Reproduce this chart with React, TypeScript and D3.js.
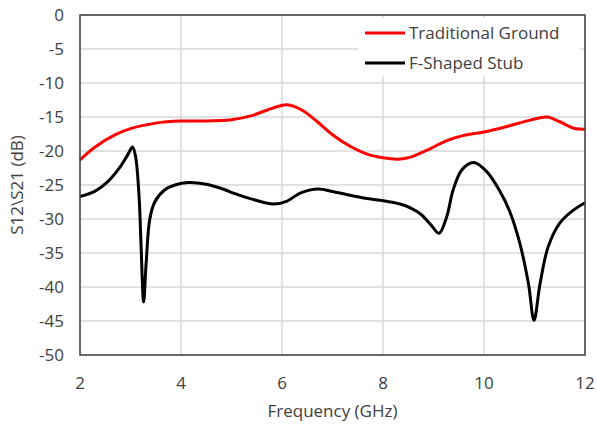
import React, { useRef, useEffect } from "react";
import * as d3 from "d3";

// Traditional Ground (red)
const tradFreq = [2.0, 2.3, 2.7, 3.0, 3.5, 4.0, 4.4, 5.0, 5.4, 5.7, 6.1, 6.4, 6.7, 7.0, 7.35, 7.7, 8.0, 8.3, 8.55, 8.95, 9.25, 9.6, 10.0, 10.45, 10.9, 11.25, 11.5, 11.8, 12.0];
const tradDb = [-21.3, -19.4, -17.6, -16.7, -15.9, -15.6, -15.6, -15.4, -14.8, -14.0, -13.2, -14.0, -15.7, -17.6, -19.3, -20.5, -21.0, -21.2, -20.9, -19.6, -18.5, -17.7, -17.2, -16.4, -15.5, -15.0, -15.7, -16.7, -16.8];

// F-Shaped Stub (black)
const stubFreq = [2.0, 2.3, 2.55, 2.8, 2.95, 3.04, 3.1, 3.17, 3.21, 3.26, 3.31, 3.38, 3.48, 3.68, 3.88, 4.14, 4.5, 4.87, 5.04, 5.37, 5.83, 6.09, 6.36, 6.72, 7.02, 7.68, 8.0, 8.34, 8.55, 8.75, 8.93, 9.11, 9.26, 9.39, 9.56, 9.79, 10.05, 10.32, 10.51, 10.71, 10.88, 10.99, 11.11, 11.27, 11.5, 11.77, 12.0];
const stubDb = [-26.7, -25.9, -24.5, -22.3, -20.5, -19.4, -20.8, -26.7, -34.1, -42.2, -36.5, -30.1, -27.5, -25.7, -25.0, -24.65, -24.9, -25.7, -26.2, -27.0, -27.8, -27.4, -26.2, -25.6, -26.0, -27.0, -27.3, -27.8, -28.4, -29.3, -30.7, -32.1, -29.7, -25.7, -22.8, -21.7, -23.0, -26.0, -28.9, -33.6, -39.5, -44.9, -39.5, -34.1, -30.6, -28.7, -27.6];

const xTicks = [2, 4, 6, 8, 10, 12];
const yTicks = [0, -5, -10, -15, -20, -25, -30, -35, -40, -45, -50];

const seriesNames = ["Traditional Ground", "F-Shaped Stub"];
const seriesColors = ["#ff0000", "#000000"];

export default function App() {
    const svgRef = useRef(null);

    useEffect(() => {
        const width = 597;
        const height = 426;
        const margin = { top: 15, right: 12, bottom: 71, left: 80 };
        const font = "'Open Sans', sans-serif";
        const fontSize = 17;
        const textColor = "#404040";

        const x = d3.scaleLinear().domain([2, 12]).range([margin.left, width - margin.right]);
        const y = d3.scaleLinear().domain([-50, 0]).range([height - margin.bottom, margin.top]);

        const svg = d3.select(svgRef.current).attr("width", width).attr("height", height);
        svg.selectAll("*").remove();

        svg.append("rect").attr("width", width).attr("height", height).attr("fill", "#fff");

        // gridlines
        svg.append("g")
            .selectAll("line")
            .data(yTicks)
            .join("line")
            .attr("x1", x(2)).attr("x2", x(12))
            .attr("y1", (d) => y(d)).attr("y2", (d) => y(d))
            .attr("stroke", "#d9d9d9").attr("stroke-width", 1.5);

        svg.append("g")
            .selectAll("line")
            .data(xTicks)
            .join("line")
            .attr("x1", (d) => x(d)).attr("x2", (d) => x(d))
            .attr("y1", y(0)).attr("y2", y(-50))
            .attr("stroke", "#d9d9d9").attr("stroke-width", 1.5);

        // legend background hides the grid
        svg.append("rect")
            .attr("x", 358).attr("y", 18).attr("width", 222).attr("height", 58)
            .attr("fill", "#fff");

        const line = d3.line<[number, number]>()
            .x((d) => x(d[0]))
            .y((d) => y(d[1]))
            .curve(d3.curveCatmullRom.alpha(0.5));

        const series = [
            tradFreq.map((f, i) => [f, tradDb[i]] as [number, number]),
            stubFreq.map((f, i) => [f, stubDb[i]] as [number, number]),
        ];

        series.forEach((s, i) => {
            svg.append("path")
                .datum(s)
                .attr("fill", "none")
                .attr("stroke", seriesColors[i])
                .attr("stroke-width", 3)
                .attr("stroke-linejoin", "round")
                .attr("d", line);
        });

        // plot frame
        svg.append("rect")
            .attr("x", x(2)).attr("y", y(0))
            .attr("width", x(12) - x(2)).attr("height", y(-50) - y(0))
            .attr("fill", "none").attr("stroke", "#404040").attr("stroke-width", 1.5);

        // tick labels
        svg.append("g")
            .selectAll("text")
            .data(yTicks)
            .join("text")
            .attr("x", 64)
            .attr("y", (d) => y(d))
            .attr("dy", "0.35em")
            .attr("text-anchor", "end")
            .attr("font-family", font).attr("font-size", fontSize).attr("fill", textColor)
            .text((d) => d);

        svg.append("g")
            .selectAll("text")
            .data(xTicks)
            .join("text")
            .attr("x", (d) => x(d))
            .attr("y", 383)
            .attr("dy", "0.35em")
            .attr("text-anchor", "middle")
            .attr("font-family", font).attr("font-size", fontSize).attr("fill", textColor)
            .text((d) => d);

        // axis titles
        svg.append("text")
            .attr("x", (x(2) + x(12)) / 2)
            .attr("y", 411)
            .attr("dy", "0.35em")
            .attr("text-anchor", "middle")
            .attr("font-family", font).attr("font-size", fontSize).attr("fill", textColor)
            .text("Frequency (GHz)");

        svg.append("text")
            .attr("transform", `translate(17,${(y(0) + y(-50)) / 2}) rotate(-90)`)
            .attr("dy", "0.35em")
            .attr("text-anchor", "middle")
            .attr("font-family", font).attr("font-size", fontSize).attr("fill", textColor)
            .text("S12\\S21 (dB)");

        // legend
        seriesNames.forEach((name, i) => {
            const ly = 33 + i * 30;
            svg.append("line")
                .attr("x1", 365).attr("x2", 405)
                .attr("y1", ly).attr("y2", ly)
                .attr("stroke", seriesColors[i]).attr("stroke-width", 3);
            svg.append("text")
                .attr("x", 409).attr("y", ly)
                .attr("dy", "0.35em")
                .attr("font-family", font).attr("font-size", fontSize).attr("fill", textColor)
                .text(name);
        });
    }, []);

    return (
        <svg ref={svgRef} style={{ position: "absolute", left: 0, top: 0 }}></svg>
    );
}
